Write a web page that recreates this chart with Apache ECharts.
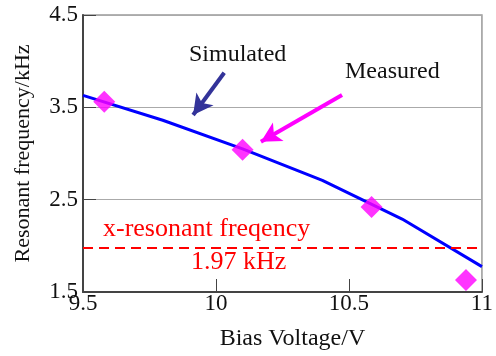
<!DOCTYPE html>
<html>
<head>
<meta charset="utf-8">
<script src="https://cdn.jsdelivr.net/npm/echarts@6/dist/echarts.min.js"></script>
<style>
  html, body { margin: 0; padding: 0; background: #fff; }
  #chart { width: 496px; height: 356px; }
</style>
</head>
<body>
<div id="chart"></div>
<script>
// simulated curve (bias voltage V, frequency kHz)
const simVoltage = [9.5, 9.8, 10.1, 10.4, 10.7, 11.0]
const simFreq = [3.63, 3.36, 3.05, 2.71, 2.29, 1.775]

// measured points
const measVoltage = [9.58, 10.1, 10.585, 10.94]
const measFreq = [3.56, 3.04, 2.42, 1.63]

const xResonant = 1.98

const font = 'Liberation Serif'

const chart = echarts.init(document.getElementById('chart'))

let option = {
    animation: false,
    grid: {
        left: 83,
        right: 7,
        top: 15,
        bottom: 64,
        show: true,
        borderColor: '#999',
        borderWidth: 1.5
    },
    xAxis: {
        type: 'value',
        min: 9.5,
        max: 11,
        interval: 0.5,
        name: 'Bias Voltage/V',
        nameLocation: 'middle',
        nameGap: 35,
        nameTextStyle: { fontFamily: font, fontSize: 24, color: '#111', padding: [0, 0, 0, 20] },
        axisLine: { lineStyle: { color: '#444', width: 2 } },
        axisTick: { inside: true, length: 13, lineStyle: { color: '#444', width: 1 } },
        axisLabel: { fontFamily: font, fontSize: 23, color: '#111', margin: 0 },
        splitLine: { show: false }
    },
    yAxis: {
        type: 'value',
        min: 1.5,
        max: 4.5,
        interval: 1,
        name: 'Resonant frequency/kHz',
        nameLocation: 'middle',
        nameGap: 49,
        nameTextStyle: { fontFamily: font, fontSize: 22, color: '#111' },
        axisLine: { lineStyle: { color: '#444', width: 2 } },
        axisTick: { inside: true, length: 13, lineStyle: { color: '#444', width: 1 } },
        axisLabel: { fontFamily: font, fontSize: 23, color: '#111', margin: 5,
            formatter: v => v.toFixed(1) },
        splitLine: { show: true, lineStyle: { color: '#aaa', width: 1 } }
    },
    series: [
        {
            name: 'Simulated',
            type: 'line',
            data: simVoltage.map((v, i) => [v, simFreq[i]]),
            showSymbol: false,
            lineStyle: { color: '#0000ff', width: 3 },
            markLine: {
                silent: true,
                symbol: ['none', 'arrow'],
                symbolSize: [16, 20],
                label: { show: false },
                lineStyle: { color: '#333399', width: 4, type: 'solid' },
                data: [
                    [{ coord: [10.031, 3.875] }, { coord: [9.914, 3.417] }]
                ]
            }
        },
        {
            name: 'Measured',
            type: 'scatter',
            data: measVoltage.map((v, i) => [v, measFreq[i]]),
            symbol: 'diamond',
            symbolSize: [22, 22],
            itemStyle: { color: '#ff00ff' },
            z: 3,
            markLine: {
                silent: true,
                symbol: ['none', 'arrow'],
                symbolSize: [16, 20],
                label: { show: false },
                lineStyle: { color: '#ff00ff', width: 4, type: 'solid' },
                data: [
                    [{ coord: [10.474, 3.633] }, { coord: [10.169, 3.127] }]
                ]
            }
        },
        {
            name: 'x-resonant',
            type: 'line',
            data: [],
            markLine: {
                silent: true,
                symbol: ['none', 'none'],
                label: { show: false },
                lineStyle: { color: '#ff0000', width: 2, type: [10, 6] },
                data: [{ yAxis: xResonant }]
            }
        }
    ],
    graphic: [
        { type: 'text', left: 189, top: 43, style: { text: 'Simulated', fontFamily: font, fontSize: 24, fill: '#111' } },
        { type: 'text', left: 345, top: 60, style: { text: 'Measured', fontFamily: font, fontSize: 24, fill: '#111' } },
        { type: 'text', left: 103, top: 216, style: { text: 'x-resonant freqency', fontFamily: font, fontSize: 26, fill: '#ff0000' } },
        { type: 'text', left: 191, top: 249, style: { text: '1.97 kHz', fontFamily: font, fontSize: 26, fill: '#ff0000' } }
    ]
}

chart.setOption(option)
</script>
</body>
</html>
